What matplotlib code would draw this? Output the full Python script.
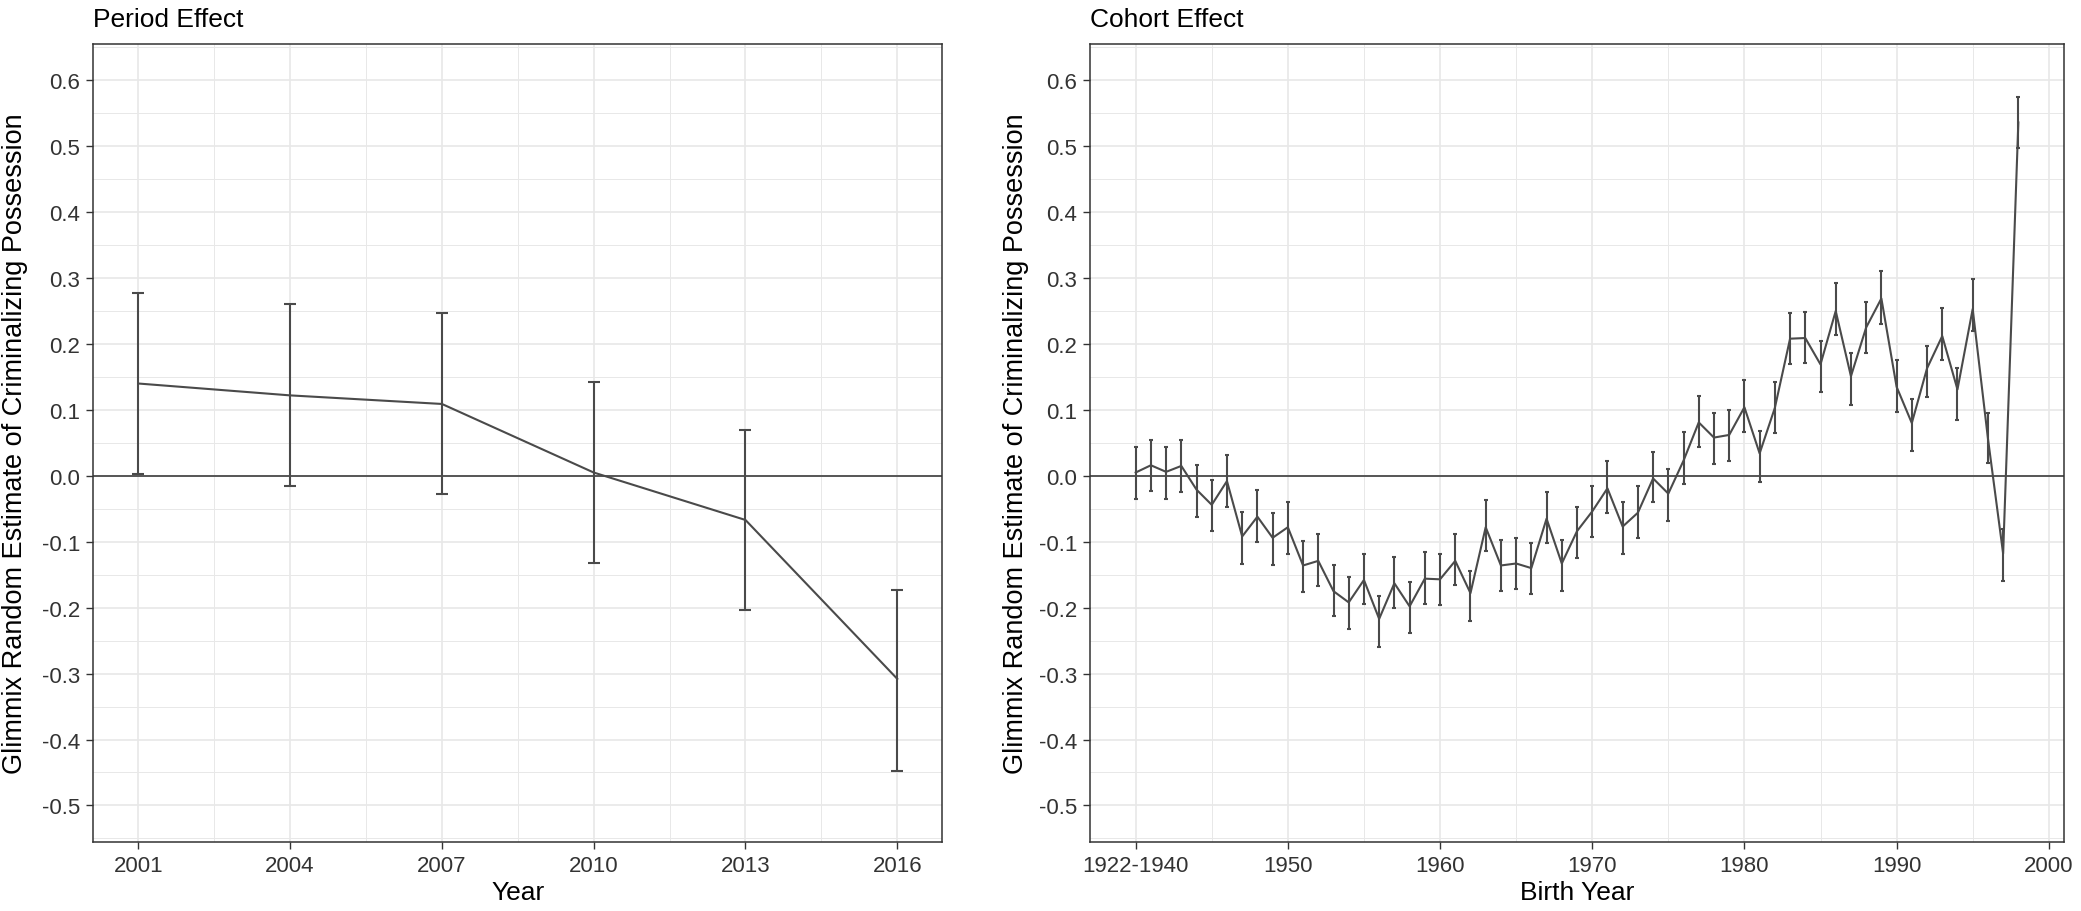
import numpy as np
import matplotlib
matplotlib.use("Agg")
import matplotlib.pyplot as plt
from matplotlib.ticker import FixedLocator

plt.rcParams['font.family'] = ['Liberation Sans', 'DejaVu Sans']

# ── Data: period effect ────────────────────────────────────
period_years = [2001, 2004, 2007, 2010, 2013, 2016]
period_est   = [0.140, 0.122, 0.109, 0.005, -0.067, -0.308]
period_lo    = [0.002, -0.015, -0.028, -0.133, -0.204, -0.447]
period_hi    = [0.277, 0.260, 0.247, 0.142, 0.070, -0.173]

# ── Data: cohort effect (first point is the pooled 1922-1940 group) ──
cohort_years = list(range(1940, 1999))
cohort_est = [0.005, 0.016, 0.006, 0.015, -0.021, -0.044, -0.008, -0.092, -0.062, -0.094,
              -0.078, -0.136, -0.129, -0.175, -0.192, -0.158, -0.217, -0.163, -0.198, -0.156,
              -0.157, -0.129, -0.178, -0.078, -0.136, -0.133, -0.140, -0.065, -0.133, -0.084,
              -0.054, -0.019, -0.077, -0.056, -0.004, -0.027, 0.023, 0.081, 0.058, 0.062,
              0.104, 0.034, 0.103, 0.208, 0.209, 0.169, 0.250, 0.151, 0.225, 0.269,
              0.135, 0.080, 0.163, 0.212, 0.131, 0.253, 0.057, -0.118, 0.536]
cohort_lo = [-0.035, -0.023, -0.035, -0.024, -0.062, -0.084, -0.047, -0.134, -0.100, -0.135,
             -0.118, -0.176, -0.167, -0.213, -0.232, -0.195, -0.259, -0.201, -0.239, -0.194,
             -0.196, -0.166, -0.220, -0.114, -0.175, -0.171, -0.180, -0.102, -0.175, -0.124,
             -0.093, -0.056, -0.118, -0.094, -0.040, -0.068, -0.012, 0.043, 0.018, 0.022,
             0.067, -0.009, 0.065, 0.169, 0.171, 0.127, 0.214, 0.108, 0.186, 0.231,
             0.097, 0.038, 0.119, 0.176, 0.085, 0.220, 0.019, -0.159, 0.497]
cohort_hi = [0.043, 0.054, 0.043, 0.054, 0.017, -0.007, 0.032, -0.055, -0.022, -0.057,
             -0.039, -0.099, -0.089, -0.136, -0.154, -0.118, -0.182, -0.123, -0.161, -0.116,
             -0.118, -0.088, -0.144, -0.037, -0.098, -0.094, -0.102, -0.025, -0.098, -0.047,
             -0.016, 0.022, -0.040, -0.016, 0.036, 0.010, 0.066, 0.121, 0.096, 0.100,
             0.146, 0.068, 0.143, 0.247, 0.248, 0.204, 0.293, 0.187, 0.263, 0.310,
             0.176, 0.116, 0.197, 0.254, 0.163, 0.298, 0.096, -0.080, 0.575]

cohort_ticks  = [1940, 1950, 1960, 1970, 1980, 1990, 2000]
cohort_labels = ['1922-1940', '1950', '1960', '1970', '1980', '1990', '2000']
y_ticks = [-0.5, -0.4, -0.3, -0.2, -0.1, 0.0, 0.1, 0.2, 0.3, 0.4, 0.5, 0.6]

YLABEL = 'Glimmix Random Estimate of Criminalizing Possession'

# ── Style ──────────────────────────────────────────────────
LINE   = '#4a4a4a'
FRAME  = '#333333'
GRID   = '#e8e8e8'
TXT    = '#333333'

W, H = 2081, 912
fig = plt.figure(figsize=(W / 100, H / 100), dpi=100)
fig.patch.set_facecolor('white')

top_px, bot_px = 45, 842.7
ax1 = fig.add_axes([93.3 / W, 1 - bot_px / H, (942.3 - 93.3) / W, (bot_px - top_px) / H])
ax2 = fig.add_axes([1090 / W, 1 - bot_px / H, (2064 - 1090) / W, (bot_px - top_px) / H])


def style_axis(ax, major_x, minor_x):
    ax.set_ylim(-0.555, 0.655)
    ax.yaxis.set_major_locator(FixedLocator(y_ticks))
    ax.set_yticklabels([f'{v:.1f}' if abs(v) > 1e-9 else '0.0' for v in y_ticks])
    ax.yaxis.set_minor_locator(FixedLocator([v - 0.05 for v in y_ticks] + [0.65]))
    ax.xaxis.set_major_locator(FixedLocator(major_x))
    ax.xaxis.set_minor_locator(FixedLocator(minor_x))
    ax.grid(True, which='major', color=GRID, lw=1.2, zorder=0)
    ax.grid(True, which='minor', color=GRID, lw=0.7, zorder=0)
    ax.set_axisbelow(True)
    ax.tick_params(which='major', length=5, width=1.0, color=FRAME,
                   labelsize=16, labelcolor=TXT, pad=4.3)
    ax.tick_params(which='minor', length=0)
    for spine in ax.spines.values():
        spine.set_edgecolor(FRAME)
        spine.set_linewidth(1.1)
    ax.axhline(0, color='#555555', lw=1.4, zorder=1)


# ── Period effect ──────────────────────────────────────────
pe = np.array(period_est)
ax1.errorbar(period_years, pe, yerr=[pe - np.array(period_lo), np.array(period_hi) - pe],
             fmt='none', ecolor=LINE, elinewidth=1.5, capsize=4.3, capthick=1.5, zorder=3)
ax1.plot(period_years, pe, color=LINE, lw=1.5, zorder=3)
ax1.set_xlim(2000.11, 2016.89)
style_axis(ax1, period_years, [2002.5, 2005.5, 2008.5, 2011.5, 2014.5])
ax1.set_title('Period Effect', loc='left', fontsize=19, pad=13)
ax1.set_xlabel('Year', fontsize=19)
ax1.set_ylabel(YLABEL, fontsize=19.5)
ax1.yaxis.set_label_coords(-0.077, 0.5)
ax1.xaxis.set_label_coords(0.5, -0.048)
ax1.xaxis.label.set_va('top')

# ── Cohort effect ──────────────────────────────────────────
ce = np.array(cohort_est)
ax2.errorbar(cohort_years, ce, yerr=[ce - np.array(cohort_lo), np.array(cohort_hi) - ce],
             fmt='none', ecolor=LINE, elinewidth=1.5, capsize=1.2, capthick=1.5, zorder=3)
ax2.plot(cohort_years, ce, color=LINE, lw=1.5, zorder=3)
ax2.set_xlim(1937.0, 2001.0)
style_axis(ax2, cohort_ticks, [1945, 1955, 1965, 1975, 1985, 1995])
ax2.set_xticklabels(cohort_labels)
ax2.set_title('Cohort Effect', loc='left', fontsize=19, pad=13)
ax2.set_xlabel('Birth Year', fontsize=19)
ax2.set_ylabel(YLABEL, fontsize=19.5)
ax2.yaxis.set_label_coords(-0.063, 0.5)
ax2.xaxis.set_label_coords(0.5, -0.048)
ax2.xaxis.label.set_va('top')

fig.savefig('out.png', dpi=100)
